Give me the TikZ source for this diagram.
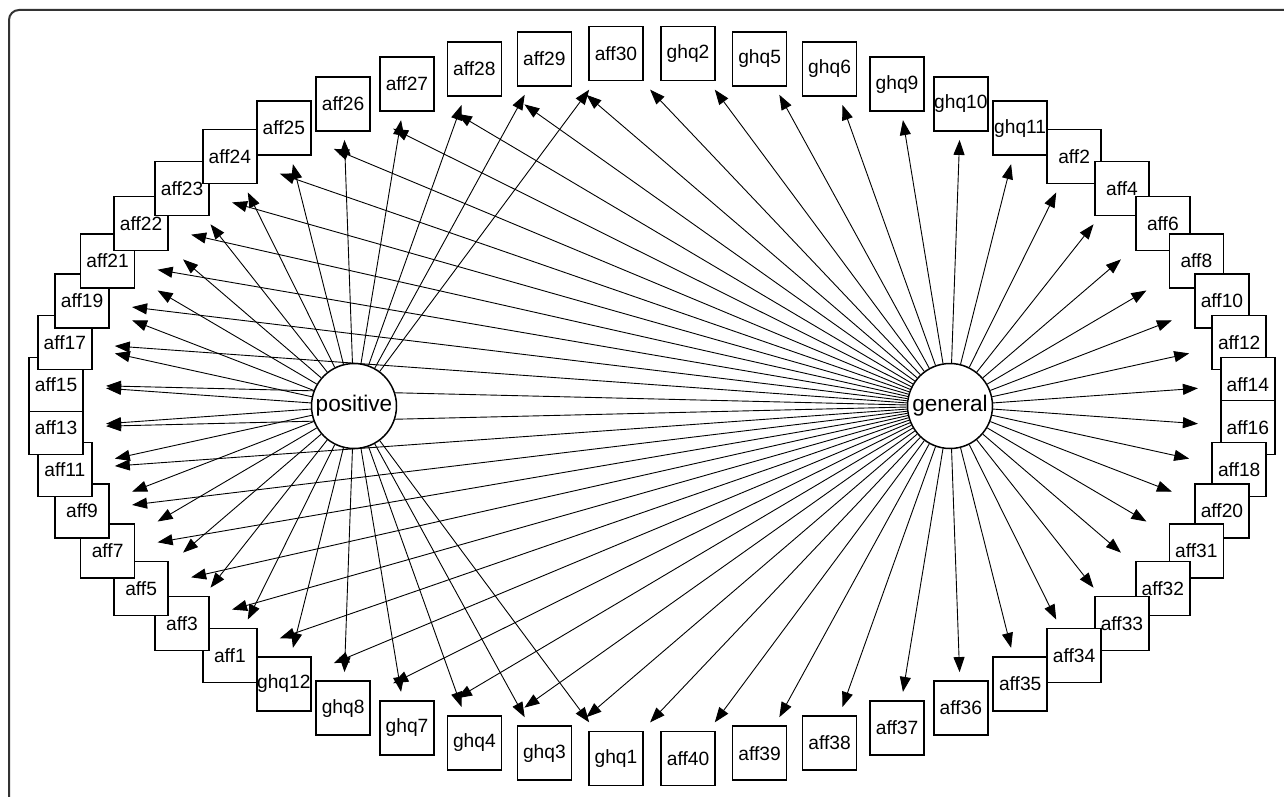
\documentclass[tikz,border=0pt]{standalone}
\usepackage{fontspec}
\setmainfont{Liberation Sans}
\usetikzlibrary{arrows.meta}
\pgfdeclarelayer{background}
\pgfsetlayers{background,main}

\begin{document}
\begin{tikzpicture}[x=0.5pt,y=-0.5pt,
		item/.style={draw,fill=white,line width=0.75pt,minimum width=27pt,minimum height=27pt,inner sep=0pt,outer xsep=11.5pt,outer ysep=4.5pt,font=\fontsize{9.6}{10}\selectfont},
		factor/.style={draw,fill=white,circle,line width=0.75pt,minimum size=42.5pt,inner sep=0pt,font=\fontsize{11.3}{12}\selectfont},
		load/.style={line width=0.45pt,-{Triangle[length=7.5pt,width=5.5pt]}}]
		\useasboundingbox (0,0) rectangle (1284,797);

		\draw[line width=1pt,black!80,rounded corners=5pt] (9,797) |- (1284,10);

		\foreach \name/\k in {ghq1/38,ghq2/12,ghq3/37,ghq4/36,ghq5/11,ghq6/10,ghq7/35,ghq8/34,ghq9/9,ghq10/8,ghq11/7,ghq12/33,
			aff1/32,aff2/6,aff3/31,aff4/5,aff5/30,aff6/4,aff7/29,aff8/3,aff9/28,aff10/2,aff11/27,aff12/1,aff13/26,aff14/0,
			aff15/25,aff16/51,aff17/24,aff18/50,aff19/23,aff20/49,aff21/22,aff22/21,aff23/20,aff24/19,aff25/18,aff26/17,
			aff27/16,aff28/15,aff29/14,aff30/13,aff31/48,aff32/47,aff33/46,aff34/45,aff35/44,aff36/43,aff37/42,aff38/41,
			aff39/40,aff40/39}{
			\node[item] (\name) at ({652+597*cos((\k+0.5)*6.9230769)}, {406-353*sin((\k+0.5)*6.9230769)}) {\name};
		}

		\node[factor] (positive) at (354,406) {positive};
		\node[factor] (general) at (950,406) {general};

		\begin{pgfonlayer}{background}
		\foreach \i in {aff1,aff3,aff5,aff7,aff9,aff11,aff13,aff15,aff17,aff19,aff21,aff22,aff23,aff24,aff25,aff26,
			aff27,aff28,aff29,aff30,ghq1,ghq3,ghq4,ghq7,ghq8,ghq12}{
			\draw[load] (positive) -- (\i);
		}
		\foreach \i in {1,...,40}{
			\draw[load] (general) -- (aff\i);
		}
		\foreach \i in {1,...,12}{
			\draw[load] (general) -- (ghq\i);
		}
		\end{pgfonlayer}

	\end{tikzpicture}
\end{document}
